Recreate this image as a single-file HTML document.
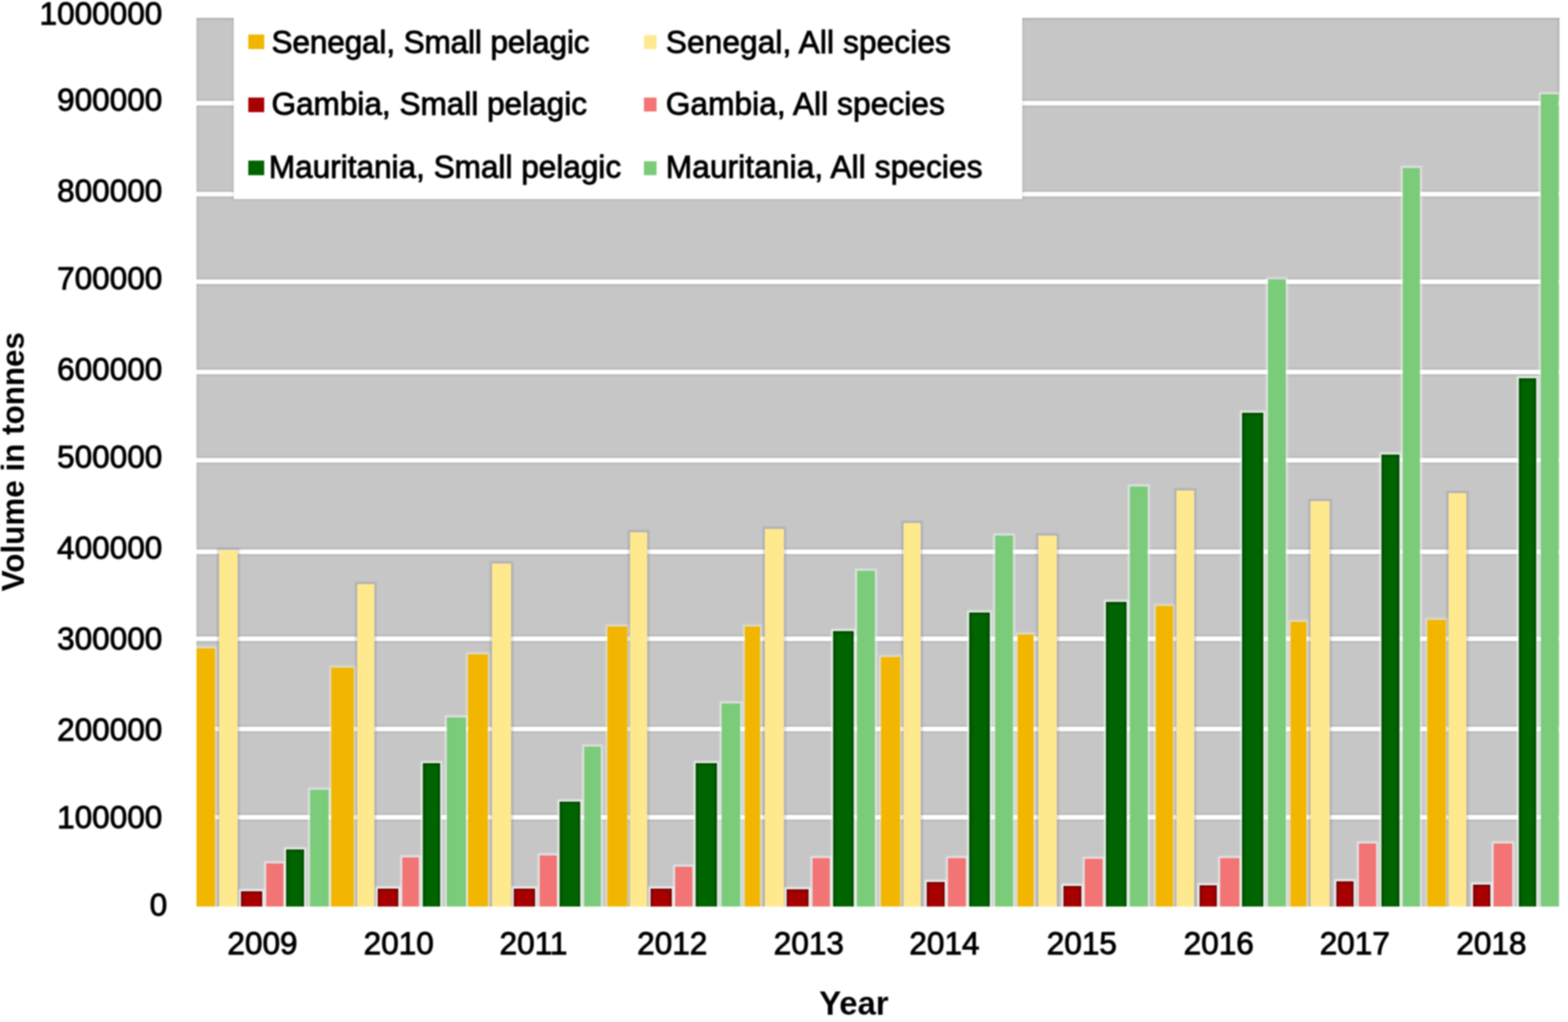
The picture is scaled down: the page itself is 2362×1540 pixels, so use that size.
<!DOCTYPE html>
<html><head><meta charset="utf-8"><title>Volume in tonnes by year</title>
<style>
html,body{margin:0;padding:0;background:#fff;}
body{width:2362px;height:1540px;position:relative;overflow:hidden;font-family:"Liberation Sans",Arial,sans-serif;color:#000;}
#w{position:absolute;left:0;top:0;width:2362px;height:1540px;filter:blur(0.9px);}
.plot{position:absolute;left:295.7px;top:27px;width:2053.7px;height:1338.5px;background:#C6C6C6;overflow:hidden;box-shadow:inset 0 3px 3px -1px rgba(0,0,0,0.12),inset -3px 0 3px -1px rgba(0,0,0,0.12),inset 3px 0 3px -1px rgba(0,0,0,0.06);}
.plot div{position:absolute;}
.g{left:0;width:2053.7px;height:7px;background:#fff;box-shadow:0 -2px 2px rgba(0,0,0,0.09),0 2px 2px rgba(0,0,0,0.09);}
.leg{left:56.8px;top:-10px;width:1187.5px;height:283px;background:#fff;box-shadow:0 0 3px 1px rgba(0,0,0,0.13);}
.yl,.xl,.lt{position:absolute;font-size:47.5px;line-height:47.5px;white-space:nowrap;-webkit-text-stroke:1.3px #000;}
.yl{right:2117.5px;text-align:right;}
.xl{width:200px;text-align:center;}
.sw{position:absolute;}
.t{position:absolute;font-weight:bold;white-space:nowrap;}
</style></head><body>
<div id="w">
<div class="plot">
<div class="g" style="top:1201.0px"></div>
<div class="g" style="top:1068.0px"></div>
<div class="g" style="top:932.0px"></div>
<div class="g" style="top:800.5px"></div>
<div class="g" style="top:663.0px"></div>
<div class="g" style="top:530.0px"></div>
<div class="g" style="top:394.0px"></div>
<div class="g" style="top:262.0px"></div>
<div class="g" style="top:125.0px"></div>
<div style="left:-0.2px;width:28.0px;top:950.0px;height:393.5px;box-shadow:0 0 2px 3px rgba(255,255,220,0.4)"></div>
<div style="left:34.3px;width:28.5px;top:802.0px;height:541.5px;box-shadow:0 0 2px 3px rgba(60,60,110,0.18)"></div>
<div style="left:67.4px;width:32.1px;top:1316.0px;height:27.5px;box-shadow:0 0 2px 3px rgba(255,255,255,0.75)"></div>
<div style="left:105.1px;width:26.1px;top:1274.0px;height:69.5px;box-shadow:0 0 2px 3px rgba(255,255,255,0.55)"></div>
<div style="left:135.8px;width:27.0px;top:1253.0px;height:90.5px;box-shadow:0 0 2px 3px rgba(240,255,240,0.75)"></div>
<div style="left:171.2px;width:27.9px;top:1163.0px;height:180.5px;box-shadow:0 0 2px 3px rgba(255,255,255,0.5)"></div>
<div style="left:203.5px;width:34.0px;top:979.0px;height:364.5px;box-shadow:0 0 2px 3px rgba(255,255,220,0.4)"></div>
<div style="left:242.6px;width:26.1px;top:853.0px;height:490.5px;box-shadow:0 0 2px 3px rgba(60,60,110,0.18)"></div>
<div style="left:272.9px;width:31.6px;top:1311.6px;height:31.9px;box-shadow:0 0 2px 3px rgba(255,255,255,0.75)"></div>
<div style="left:310.1px;width:25.6px;top:1264.5px;height:79.0px;box-shadow:0 0 2px 3px rgba(255,255,255,0.55)"></div>
<div style="left:341.3px;width:26.0px;top:1122.7px;height:220.8px;box-shadow:0 0 2px 3px rgba(240,255,240,0.75)"></div>
<div style="left:377.8px;width:28.7px;top:1053.8px;height:289.7px;box-shadow:0 0 2px 3px rgba(255,255,255,0.5)"></div>
<div style="left:409.4px;width:30.3px;top:958.8px;height:384.7px;box-shadow:0 0 2px 3px rgba(255,255,220,0.4)"></div>
<div style="left:445.3px;width:28.8px;top:822.0px;height:521.5px;box-shadow:0 0 2px 3px rgba(60,60,110,0.18)"></div>
<div style="left:478.8px;width:31.6px;top:1312.0px;height:31.5px;box-shadow:0 0 2px 3px rgba(255,255,255,0.75)"></div>
<div style="left:517.0px;width:26.0px;top:1262.0px;height:81.5px;box-shadow:0 0 2px 3px rgba(255,255,255,0.55)"></div>
<div style="left:547.7px;width:30.7px;top:1180.7px;height:162.8px;box-shadow:0 0 2px 3px rgba(240,255,240,0.75)"></div>
<div style="left:584.5px;width:24.6px;top:1098.0px;height:245.5px;box-shadow:0 0 2px 3px rgba(255,255,255,0.5)"></div>
<div style="left:619.5px;width:29.4px;top:917.0px;height:426.5px;box-shadow:0 0 2px 3px rgba(255,255,220,0.4)"></div>
<div style="left:653.1px;width:26.0px;top:774.6px;height:568.9px;box-shadow:0 0 2px 3px rgba(60,60,110,0.18)"></div>
<div style="left:684.7px;width:31.2px;top:1312.0px;height:31.5px;box-shadow:0 0 2px 3px rgba(255,255,255,0.75)"></div>
<div style="left:721.0px;width:26.1px;top:1279.0px;height:64.5px;box-shadow:0 0 2px 3px rgba(255,255,255,0.55)"></div>
<div style="left:752.7px;width:31.6px;top:1123.3px;height:220.2px;box-shadow:0 0 2px 3px rgba(240,255,240,0.75)"></div>
<div style="left:790.9px;width:28.8px;top:1033.3px;height:310.2px;box-shadow:0 0 2px 3px rgba(255,255,255,0.5)"></div>
<div style="left:825.9px;width:23.8px;top:917.2px;height:426.3px;box-shadow:0 0 2px 3px rgba(255,255,220,0.4)"></div>
<div style="left:856.2px;width:28.9px;top:769.5px;height:574.0px;box-shadow:0 0 2px 3px rgba(60,60,110,0.18)"></div>
<div style="left:889.7px;width:32.6px;top:1313.4px;height:30.1px;box-shadow:0 0 2px 3px rgba(255,255,255,0.75)"></div>
<div style="left:927.9px;width:26.1px;top:1265.9px;height:77.6px;box-shadow:0 0 2px 3px rgba(255,255,255,0.55)"></div>
<div style="left:959.1px;width:31.2px;top:923.5px;height:420.0px;box-shadow:0 0 2px 3px rgba(240,255,240,0.75)"></div>
<div style="left:995.4px;width:26.5px;top:833.0px;height:510.5px;box-shadow:0 0 2px 3px rgba(255,255,255,0.5)"></div>
<div style="left:1031.4px;width:28.9px;top:962.8px;height:380.7px;box-shadow:0 0 2px 3px rgba(255,255,220,0.4)"></div>
<div style="left:1064.9px;width:26.6px;top:760.5px;height:583.0px;box-shadow:0 0 2px 3px rgba(60,60,110,0.18)"></div>
<div style="left:1100.3px;width:27.0px;top:1301.5px;height:42.0px;box-shadow:0 0 2px 3px rgba(255,255,255,0.75)"></div>
<div style="left:1132.0px;width:27.0px;top:1265.9px;height:77.6px;box-shadow:0 0 2px 3px rgba(255,255,255,0.55)"></div>
<div style="left:1164.1px;width:31.6px;top:896.2px;height:447.3px;box-shadow:0 0 2px 3px rgba(240,255,240,0.75)"></div>
<div style="left:1203.2px;width:27.0px;top:780.0px;height:563.5px;box-shadow:0 0 2px 3px rgba(255,255,255,0.5)"></div>
<div style="left:1237.3px;width:24.2px;top:928.5px;height:415.0px;box-shadow:0 0 2px 3px rgba(255,255,220,0.4)"></div>
<div style="left:1268.3px;width:28.0px;top:780.0px;height:563.5px;box-shadow:0 0 2px 3px rgba(60,60,110,0.18)"></div>
<div style="left:1306.7px;width:26.5px;top:1308.0px;height:35.5px;box-shadow:0 0 2px 3px rgba(255,255,255,0.75)"></div>
<div style="left:1338.8px;width:26.1px;top:1267.2px;height:76.3px;box-shadow:0 0 2px 3px rgba(255,255,255,0.55)"></div>
<div style="left:1370.0px;width:31.2px;top:880.0px;height:463.5px;box-shadow:0 0 2px 3px rgba(240,255,240,0.75)"></div>
<div style="left:1406.8px;width:27.0px;top:705.5px;height:638.0px;box-shadow:0 0 2px 3px rgba(255,255,255,0.5)"></div>
<div style="left:1445.6px;width:26.1px;top:886.2px;height:457.3px;box-shadow:0 0 2px 3px rgba(255,255,220,0.4)"></div>
<div style="left:1476.8px;width:26.1px;top:711.8px;height:631.7px;box-shadow:0 0 2px 3px rgba(60,60,110,0.18)"></div>
<div style="left:1511.7px;width:26.1px;top:1306.5px;height:37.0px;box-shadow:0 0 2px 3px rgba(255,255,255,0.75)"></div>
<div style="left:1542.4px;width:28.9px;top:1266.0px;height:77.5px;box-shadow:0 0 2px 3px rgba(255,255,255,0.55)"></div>
<div style="left:1575.5px;width:31.6px;top:594.7px;height:748.8px;box-shadow:0 0 2px 3px rgba(240,255,240,0.75)"></div>
<div style="left:1614.1px;width:27.0px;top:394.0px;height:949.5px;box-shadow:0 0 2px 3px rgba(255,255,255,0.5)"></div>
<div style="left:1648.3px;width:24.2px;top:909.8px;height:433.7px;box-shadow:0 0 2px 3px rgba(255,255,220,0.4)"></div>
<div style="left:1678.8px;width:28.5px;top:728.4px;height:615.1px;box-shadow:0 0 2px 3px rgba(60,60,110,0.18)"></div>
<div style="left:1717.6px;width:26.1px;top:1301.4px;height:42.1px;box-shadow:0 0 2px 3px rgba(255,255,255,0.75)"></div>
<div style="left:1751.6px;width:25.6px;top:1243.7px;height:99.8px;box-shadow:0 0 2px 3px rgba(255,255,255,0.55)"></div>
<div style="left:1785.1px;width:27.5px;top:658.3px;height:685.2px;box-shadow:0 0 2px 3px rgba(240,255,240,0.75)"></div>
<div style="left:1817.8px;width:26.0px;top:226.0px;height:1117.5px;box-shadow:0 0 2px 3px rgba(255,255,255,0.5)"></div>
<div style="left:1854.2px;width:28.4px;top:907.3px;height:436.2px;box-shadow:0 0 2px 3px rgba(255,255,220,0.4)"></div>
<div style="left:1886.8px;width:26.1px;top:716.0px;height:627.5px;box-shadow:0 0 2px 3px rgba(60,60,110,0.18)"></div>
<div style="left:1923.1px;width:26.1px;top:1305.5px;height:38.0px;box-shadow:0 0 2px 3px rgba(255,255,255,0.75)"></div>
<div style="left:1954.8px;width:27.9px;top:1243.7px;height:99.8px;box-shadow:0 0 2px 3px rgba(255,255,255,0.55)"></div>
<div style="left:1992.0px;width:26.1px;top:543.0px;height:800.5px;box-shadow:0 0 2px 3px rgba(240,255,240,0.75)"></div>
<div style="left:2025.1px;width:27.4px;top:115.0px;height:1228.5px;box-shadow:0 0 2px 3px rgba(255,255,255,0.5)"></div>
<div style="left:-0.2px;width:28.0px;top:950.0px;height:393.5px;background:#F2B600"></div>
<div style="left:34.3px;width:28.5px;top:802.0px;height:541.5px;background:#FFE98F"></div>
<div style="left:67.4px;width:32.1px;top:1316.0px;height:27.5px;background:#A80000;box-shadow:inset 0 0 4px 1px rgba(0,0,0,0.6)"></div>
<div style="left:105.1px;width:26.1px;top:1274.0px;height:69.5px;background:#F27474"></div>
<div style="left:135.8px;width:27.0px;top:1253.0px;height:90.5px;background:#006400;box-shadow:inset 0 0 4px 1px rgba(0,0,0,0.6)"></div>
<div style="left:171.2px;width:27.9px;top:1163.0px;height:180.5px;background:#7ACB7A"></div>
<div style="left:203.5px;width:34.0px;top:979.0px;height:364.5px;background:#F2B600"></div>
<div style="left:242.6px;width:26.1px;top:853.0px;height:490.5px;background:#FFE98F"></div>
<div style="left:272.9px;width:31.6px;top:1311.6px;height:31.9px;background:#A80000;box-shadow:inset 0 0 4px 1px rgba(0,0,0,0.6)"></div>
<div style="left:310.1px;width:25.6px;top:1264.5px;height:79.0px;background:#F27474"></div>
<div style="left:341.3px;width:26.0px;top:1122.7px;height:220.8px;background:#006400;box-shadow:inset 0 0 4px 1px rgba(0,0,0,0.6)"></div>
<div style="left:377.8px;width:28.7px;top:1053.8px;height:289.7px;background:#7ACB7A"></div>
<div style="left:409.4px;width:30.3px;top:958.8px;height:384.7px;background:#F2B600"></div>
<div style="left:445.3px;width:28.8px;top:822.0px;height:521.5px;background:#FFE98F"></div>
<div style="left:478.8px;width:31.6px;top:1312.0px;height:31.5px;background:#A80000;box-shadow:inset 0 0 4px 1px rgba(0,0,0,0.6)"></div>
<div style="left:517.0px;width:26.0px;top:1262.0px;height:81.5px;background:#F27474"></div>
<div style="left:547.7px;width:30.7px;top:1180.7px;height:162.8px;background:#006400;box-shadow:inset 0 0 4px 1px rgba(0,0,0,0.6)"></div>
<div style="left:584.5px;width:24.6px;top:1098.0px;height:245.5px;background:#7ACB7A"></div>
<div style="left:619.5px;width:29.4px;top:917.0px;height:426.5px;background:#F2B600"></div>
<div style="left:653.1px;width:26.0px;top:774.6px;height:568.9px;background:#FFE98F"></div>
<div style="left:684.7px;width:31.2px;top:1312.0px;height:31.5px;background:#A80000;box-shadow:inset 0 0 4px 1px rgba(0,0,0,0.6)"></div>
<div style="left:721.0px;width:26.1px;top:1279.0px;height:64.5px;background:#F27474"></div>
<div style="left:752.7px;width:31.6px;top:1123.3px;height:220.2px;background:#006400;box-shadow:inset 0 0 4px 1px rgba(0,0,0,0.6)"></div>
<div style="left:790.9px;width:28.8px;top:1033.3px;height:310.2px;background:#7ACB7A"></div>
<div style="left:825.9px;width:23.8px;top:917.2px;height:426.3px;background:#F2B600"></div>
<div style="left:856.2px;width:28.9px;top:769.5px;height:574.0px;background:#FFE98F"></div>
<div style="left:889.7px;width:32.6px;top:1313.4px;height:30.1px;background:#A80000;box-shadow:inset 0 0 4px 1px rgba(0,0,0,0.6)"></div>
<div style="left:927.9px;width:26.1px;top:1265.9px;height:77.6px;background:#F27474"></div>
<div style="left:959.1px;width:31.2px;top:923.5px;height:420.0px;background:#006400;box-shadow:inset 0 0 4px 1px rgba(0,0,0,0.6)"></div>
<div style="left:995.4px;width:26.5px;top:833.0px;height:510.5px;background:#7ACB7A"></div>
<div style="left:1031.4px;width:28.9px;top:962.8px;height:380.7px;background:#F2B600"></div>
<div style="left:1064.9px;width:26.6px;top:760.5px;height:583.0px;background:#FFE98F"></div>
<div style="left:1100.3px;width:27.0px;top:1301.5px;height:42.0px;background:#A80000;box-shadow:inset 0 0 4px 1px rgba(0,0,0,0.6)"></div>
<div style="left:1132.0px;width:27.0px;top:1265.9px;height:77.6px;background:#F27474"></div>
<div style="left:1164.1px;width:31.6px;top:896.2px;height:447.3px;background:#006400;box-shadow:inset 0 0 4px 1px rgba(0,0,0,0.6)"></div>
<div style="left:1203.2px;width:27.0px;top:780.0px;height:563.5px;background:#7ACB7A"></div>
<div style="left:1237.3px;width:24.2px;top:928.5px;height:415.0px;background:#F2B600"></div>
<div style="left:1268.3px;width:28.0px;top:780.0px;height:563.5px;background:#FFE98F"></div>
<div style="left:1306.7px;width:26.5px;top:1308.0px;height:35.5px;background:#A80000;box-shadow:inset 0 0 4px 1px rgba(0,0,0,0.6)"></div>
<div style="left:1338.8px;width:26.1px;top:1267.2px;height:76.3px;background:#F27474"></div>
<div style="left:1370.0px;width:31.2px;top:880.0px;height:463.5px;background:#006400;box-shadow:inset 0 0 4px 1px rgba(0,0,0,0.6)"></div>
<div style="left:1406.8px;width:27.0px;top:705.5px;height:638.0px;background:#7ACB7A"></div>
<div style="left:1445.6px;width:26.1px;top:886.2px;height:457.3px;background:#F2B600"></div>
<div style="left:1476.8px;width:26.1px;top:711.8px;height:631.7px;background:#FFE98F"></div>
<div style="left:1511.7px;width:26.1px;top:1306.5px;height:37.0px;background:#A80000;box-shadow:inset 0 0 4px 1px rgba(0,0,0,0.6)"></div>
<div style="left:1542.4px;width:28.9px;top:1266.0px;height:77.5px;background:#F27474"></div>
<div style="left:1575.5px;width:31.6px;top:594.7px;height:748.8px;background:#006400;box-shadow:inset 0 0 4px 1px rgba(0,0,0,0.6)"></div>
<div style="left:1614.1px;width:27.0px;top:394.0px;height:949.5px;background:#7ACB7A"></div>
<div style="left:1648.3px;width:24.2px;top:909.8px;height:433.7px;background:#F2B600"></div>
<div style="left:1678.8px;width:28.5px;top:728.4px;height:615.1px;background:#FFE98F"></div>
<div style="left:1717.6px;width:26.1px;top:1301.4px;height:42.1px;background:#A80000;box-shadow:inset 0 0 4px 1px rgba(0,0,0,0.6)"></div>
<div style="left:1751.6px;width:25.6px;top:1243.7px;height:99.8px;background:#F27474"></div>
<div style="left:1785.1px;width:27.5px;top:658.3px;height:685.2px;background:#006400;box-shadow:inset 0 0 4px 1px rgba(0,0,0,0.6)"></div>
<div style="left:1817.8px;width:26.0px;top:226.0px;height:1117.5px;background:#7ACB7A"></div>
<div style="left:1854.2px;width:28.4px;top:907.3px;height:436.2px;background:#F2B600"></div>
<div style="left:1886.8px;width:26.1px;top:716.0px;height:627.5px;background:#FFE98F"></div>
<div style="left:1923.1px;width:26.1px;top:1305.5px;height:38.0px;background:#A80000;box-shadow:inset 0 0 4px 1px rgba(0,0,0,0.6)"></div>
<div style="left:1954.8px;width:27.9px;top:1243.7px;height:99.8px;background:#F27474"></div>
<div style="left:1992.0px;width:26.1px;top:543.0px;height:800.5px;background:#006400;box-shadow:inset 0 0 4px 1px rgba(0,0,0,0.6)"></div>
<div style="left:2025.1px;width:27.4px;top:115.0px;height:1228.5px;background:#7ACB7A"></div>
<div class="leg"></div>
</div>
<div class="sw" style="left:374px;top:52px;width:24px;height:22px;background:#F2B600"></div>
<div class="lt" style="left:409px;top:39.6px;letter-spacing:-0.2px">Senegal, Small pelagic</div>
<div class="sw" style="left:374px;top:147px;width:24px;height:22px;background:#A80000"></div>
<div class="lt" style="left:409px;top:133.0px">Gambia, Small pelagic</div>
<div class="sw" style="left:374px;top:242px;width:24px;height:22px;background:#006400"></div>
<div class="lt" style="left:405px;top:227.8px">Mauritania, Small pelagic</div>
<div class="sw" style="left:970px;top:53px;width:19px;height:21px;background:#FFE98F"></div>
<div class="lt" style="left:1003px;top:39.6px;letter-spacing:0.22px">Senegal, All species</div>
<div class="sw" style="left:970px;top:147px;width:19px;height:21px;background:#F27474"></div>
<div class="lt" style="left:1003px;top:133.0px;letter-spacing:0.17px">Gambia, All species</div>
<div class="sw" style="left:970px;top:243px;width:19px;height:21px;background:#7ACB7A"></div>
<div class="lt" style="left:1003px;top:227.8px;letter-spacing:0.2px">Mauritania, All species</div>
<div class="yl" style="top:1340.0px;margin-right:-7.5px">0</div>
<div class="yl" style="top:1208.2px">100000</div>
<div class="yl" style="top:1075.8px">200000</div>
<div class="yl" style="top:938.9px">300000</div>
<div class="yl" style="top:802.1px">400000</div>
<div class="yl" style="top:664.7px">500000</div>
<div class="yl" style="top:533.4px">600000</div>
<div class="yl" style="top:396.1px">700000</div>
<div class="yl" style="top:264.2px">800000</div>
<div class="yl" style="top:126.8px">900000</div>
<div class="yl" style="top:-3.2px">1000000</div>
<div class="xl" style="left:295.4px;top:1398.1px">2009</div>
<div class="xl" style="left:500.6px;top:1398.1px">2010</div>
<div class="xl" style="left:703.7px;top:1398.1px">2011</div>
<div class="xl" style="left:912.7px;top:1398.1px">2012</div>
<div class="xl" style="left:1118.4px;top:1398.1px">2013</div>
<div class="xl" style="left:1322.7px;top:1398.1px">2014</div>
<div class="xl" style="left:1529.7px;top:1398.1px">2015</div>
<div class="xl" style="left:1735.9px;top:1398.1px">2016</div>
<div class="xl" style="left:1940.8px;top:1398.1px">2017</div>
<div class="xl" style="left:2146.7px;top:1398.1px">2018</div>
<div class="t" style="left:1234px;top:1486.6px;font-size:49.5px;line-height:49.5px">Year</div>
<div class="t" style="left:35.5px;top:890.5px;transform-origin:0 0;transform:rotate(-90deg);font-size:47.3px;line-height:47.3px"><span style="position:relative;top:-40.0px">Volume in tonnes</span></div>
</div>
</body></html>
